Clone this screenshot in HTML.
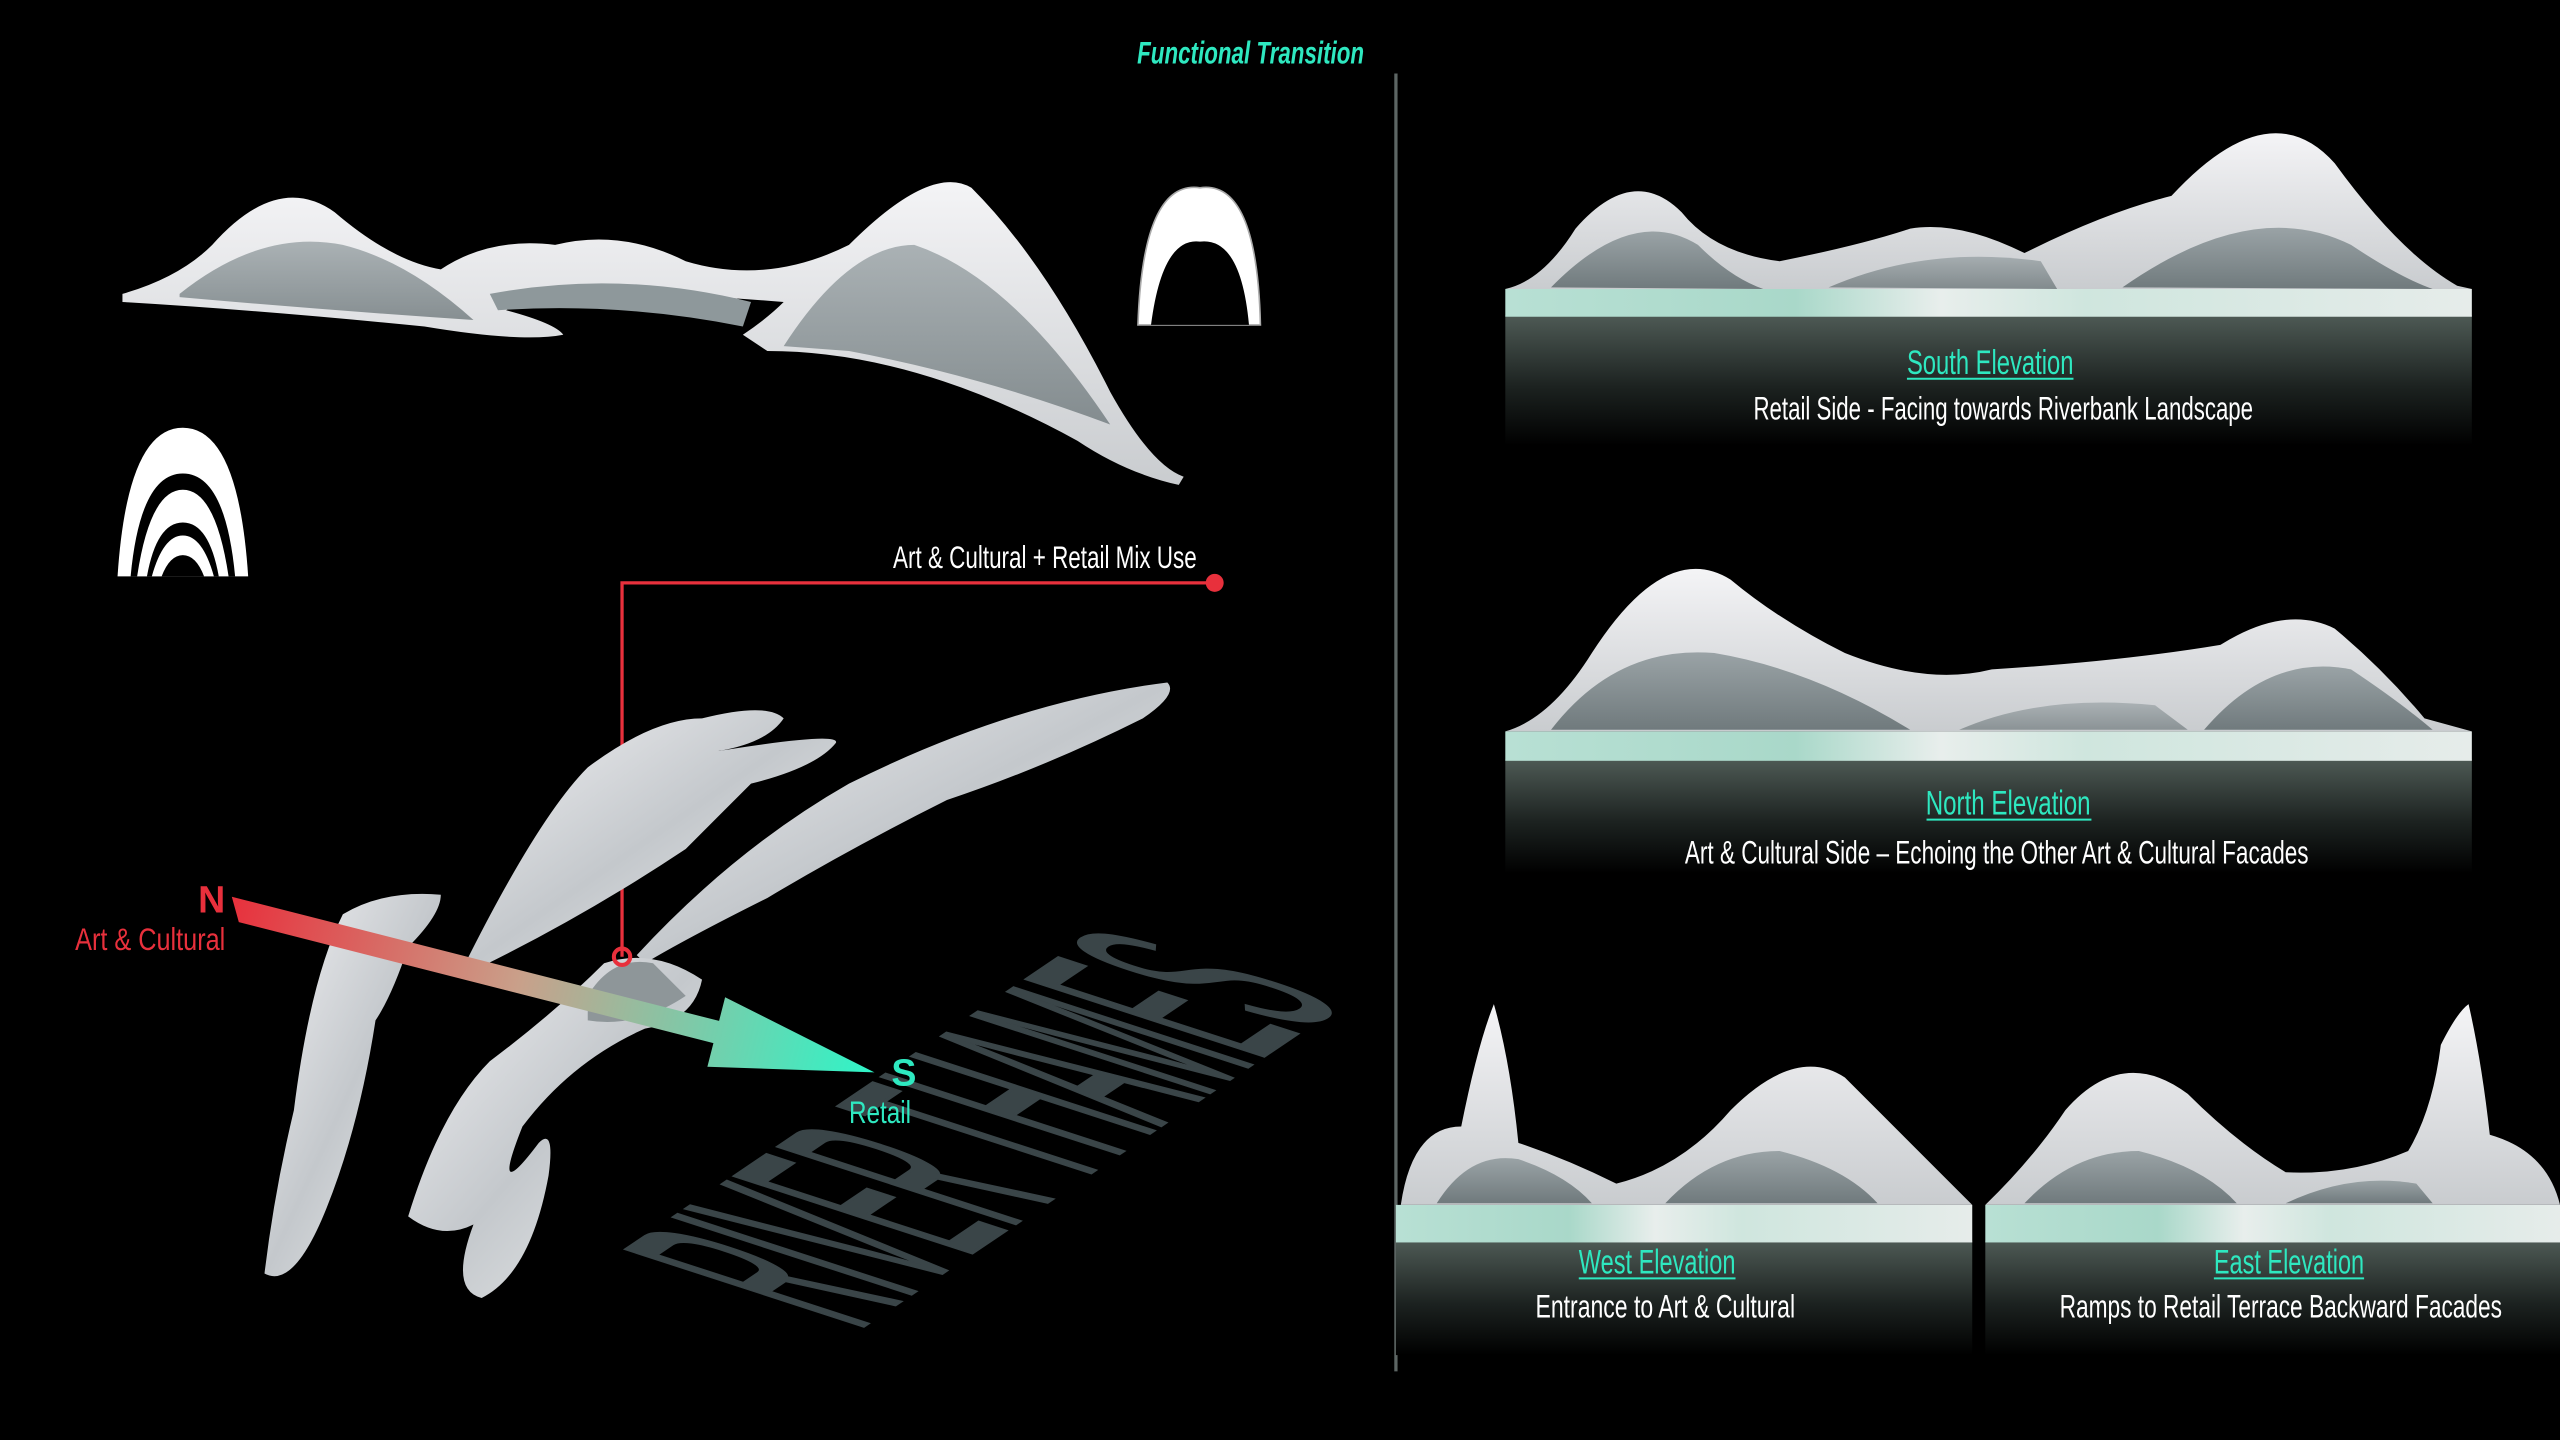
<!DOCTYPE html>
<html><head><meta charset="utf-8"><style>
html,body{margin:0;padding:0;background:#000;width:2560px;height:1440px;overflow:hidden}
svg{display:block}
text{font-family:"Liberation Sans Narrow","Liberation Sans",sans-serif}
</style></head><body>
<svg width="2560" height="1440" viewBox="0 0 1568 882" xmlns="http://www.w3.org/2000/svg">
<defs>
<linearGradient id="wh" x1="0" y1="0" x2="0" y2="1"><stop offset="0" stop-color="#f4f4f6"/><stop offset="1" stop-color="#c9cccf"/></linearGradient>
<linearGradient id="gl" x1="0" y1="0" x2="0" y2="1"><stop offset="0" stop-color="#9aa3a6"/><stop offset="1" stop-color="#707a7d"/></linearGradient>
<linearGradient id="band" x1="0" y1="0" x2="1" y2="0"><stop offset="0" stop-color="#b8e0d4"/><stop offset="0.3" stop-color="#a9d8c9"/><stop offset="0.45" stop-color="#e8eeec"/><stop offset="0.6" stop-color="#cfe6de"/><stop offset="1" stop-color="#e6ecea"/></linearGradient>
<linearGradient id="pan" x1="0" y1="0" x2="0" y2="1"><stop offset="0" stop-color="#4e5a55"/><stop offset="0.55" stop-color="#1c2220"/><stop offset="1" stop-color="#000"/></linearGradient>
<linearGradient id="arr" x1="0" y1="0" x2="1" y2="0"><stop offset="0" stop-color="#e8303c"/><stop offset="0.45" stop-color="#c9a08a"/><stop offset="1" stop-color="#2ef5c8"/></linearGradient>
<linearGradient id="blob" x1="0" y1="0" x2="1" y2="1"><stop offset="0" stop-color="#f2f2f4"/><stop offset="0.5" stop-color="#c4c8cc"/><stop offset="1" stop-color="#eef0f0"/></linearGradient>
</defs>

<text x="766" y="39" font-size="19" font-style="italic" font-weight="bold" fill="#2ee8c0" text-anchor="middle" textLength="139" lengthAdjust="spacingAndGlyphs">Functional Transition</text>
<line x1="855" y1="45" x2="855" y2="840" stroke="#5d6664" stroke-width="2"/>

<path d="M75,180 Q110,170 130,150 Q170,105 205,130 Q240,160 270,165 Q300,145 340,150 Q380,140 420,160 Q470,175 520,150 Q570,100 595,115 Q640,160 680,240 Q705,285 725,292 L722,297 Q690,290 660,270 Q560,215 470,215 L455,205 Q470,195 480,185 Q420,180 380,180 Q330,180 310,190 Q340,198 345,205 Q320,210 260,200 Q160,190 75,185 Z" fill="url(#wh)"/>
<path d="M110,180 Q160,140 210,150 Q250,160 290,196 Q200,190 110,182Z" fill="url(#gl)" opacity="0.8"/>
<path d="M480,212 Q520,150 560,150 Q620,170 680,260 Q600,230 520,215Z" fill="url(#gl)" opacity="0.8"/>
<path d="M300,180 Q380,165 460,185 L455,200 Q380,185 305,190Z" fill="#8e989b"/>

<path d="M697,199 Q700,110 735,115 Q770,110 772,199 Z" fill="#fff" stroke="#aaa" stroke-width="1"/>
<path d="M705,199 Q712,145 735,148 Q760,145 765,199Z" fill="#000"/>
<path d="M72,353 Q78,262 112,262 Q146,262 152,353Z" fill="#fff"/>
<path d="M80,353 Q86,290 112,290 Q138,290 144,353Z" fill="#000"/>
<path d="M84,353 Q92,300 112,300 Q132,300 140,353Z" fill="#fff"/>
<path d="M90,353 Q96,320 112,320 Q128,320 134,353Z" fill="#000"/>
<path d="M93,353 Q100,328 112,328 Q124,328 131,353Z" fill="#fff"/>
<path d="M99,353 Q104,340 112,340 Q120,340 125,353Z" fill="#000"/>

<text x="733" y="348" font-size="19" fill="#fff" text-anchor="end" textLength="186" lengthAdjust="spacingAndGlyphs">Art &amp; Cultural + Retail Mix Use</text>
<polyline points="744,357 381,357 381,586" fill="none" stroke="#e8303c" stroke-width="2"/>
<circle cx="744" cy="357" r="5.5" fill="#e8303c"/>

<!-- RIVER THAMES -->
<text transform="translate(525,815) rotate(-34) skewX(38)" font-size="175" fill="#3a4548" stroke="#3a4548" stroke-width="2" textLength="360" lengthAdjust="spacingAndGlyphs">RIVER THAMES</text>

<path d="M285,590 Q330,500 360,470 Q400,440 430,440 Q470,430 480,440 Q470,455 440,460 Q515,448 512,455 Q500,470 460,480 Q440,500 420,520 Q360,560 295,592Z" fill="url(#blob)"/>
<path d="M390,585 Q450,520 520,480 Q620,430 715,418 Q722,425 700,440 Q640,470 580,490 Q520,520 470,550 Q420,575 395,590Z" fill="url(#blob)"/>
<path d="M180,680 Q190,600 210,560 Q235,545 270,548 Q270,560 250,580 Q240,610 230,625 Q220,690 200,740 Q180,790 162,780 Q168,730 180,680Z" fill="url(#blob)"/>
<path d="M250,745 Q270,680 300,650 Q340,620 370,590 Q400,580 430,600 Q425,625 395,630 Q350,650 320,690 Q300,740 330,700 Q340,690 336,720 Q325,780 295,795 Q275,790 290,750 Q270,760 250,745Z" fill="url(#blob)"/>
<path d="M360,610 Q375,585 400,590 L420,610 Q390,630 360,625Z" fill="#8e9699"/>

<g transform="translate(148,558) rotate(14.3)">
<polygon points="0,-7 300,-7 300,-22 400,0 300,22 300,7 0,7 -8,-7" fill="url(#arr)"/>
</g>
<circle cx="381" cy="586" r="5" fill="none" stroke="#e8303c" stroke-width="2.5"/>
<text x="138" y="559" font-size="23" font-weight="bold" fill="#e8303c" text-anchor="end">N</text>
<text x="138" y="582" font-size="19" fill="#e8303c" text-anchor="end" textLength="92" lengthAdjust="spacingAndGlyphs">Art &amp; Cultural</text>
<text x="546" y="665" font-size="23" font-weight="bold" fill="#2ee8c0">S</text>
<text x="539" y="688" font-size="19" fill="#2ee8c0" text-anchor="middle" textLength="38" lengthAdjust="spacingAndGlyphs">Retail</text>

<rect x="922" y="193" width="592" height="80" fill="url(#pan)"/>
<rect x="922" y="177" width="592" height="17" fill="url(#band)"/>
<path d="M922,177 Q945,172 965,140 Q1000,100 1030,130 Q1050,155 1090,160 Q1140,150 1170,140 Q1200,135 1240,155 Q1290,130 1330,120 Q1390,55 1430,100 Q1470,155 1505,175 L1514,177Z" fill="url(#wh)"/>
<path d="M950,176 Q1000,125 1040,150 Q1060,170 1080,177Z" fill="url(#gl)"/>
<path d="M1300,176 Q1380,120 1440,150 Q1470,170 1490,177Z" fill="url(#gl)"/>
<path d="M1120,176 Q1180,150 1250,160 L1260,177Z" fill="url(#gl)" opacity="0.8"/>
<text x="1219" y="229" font-size="21" fill="#2ee8c0" text-anchor="middle" textLength="102" lengthAdjust="spacingAndGlyphs">South Elevation</text>
<line x1="1168" y1="232" x2="1270" y2="232" stroke="#2ee8c0" stroke-width="1.2"/>
<text x="1227" y="257" font-size="20" fill="#fff" text-anchor="middle" textLength="306" lengthAdjust="spacingAndGlyphs">Retail Side - Facing towards Riverbank Landscape</text>

<rect x="922" y="465" width="592" height="70" fill="url(#pan)"/>
<rect x="922" y="448" width="592" height="18" fill="url(#band)"/>
<path d="M922,448 Q950,440 975,400 Q1020,330 1060,355 Q1090,380 1130,400 Q1180,420 1220,410 Q1300,405 1360,395 Q1400,370 1430,385 Q1460,410 1485,440 L1514,448Z" fill="url(#wh)"/>
<path d="M950,447 Q990,395 1050,400 Q1110,410 1170,447Z" fill="url(#gl)"/>
<path d="M1350,447 Q1390,400 1440,410 Q1470,430 1490,447Z" fill="url(#gl)"/>
<path d="M1200,447 Q1250,425 1320,432 L1340,447Z" fill="url(#gl)" opacity="0.7"/>
<text x="1230" y="499" font-size="21" fill="#2ee8c0" text-anchor="middle" textLength="101" lengthAdjust="spacingAndGlyphs">North Elevation</text>
<line x1="1180" y1="502" x2="1281" y2="502" stroke="#2ee8c0" stroke-width="1.2"/>
<text x="1223" y="529" font-size="20" fill="#fff" text-anchor="middle" textLength="382" lengthAdjust="spacingAndGlyphs">Art &amp; Cultural Side – Echoing the Other Art &amp; Cultural Facades</text>

<rect x="855" y="760" width="353" height="70" fill="url(#pan)"/>
<rect x="855" y="738" width="353" height="23" fill="url(#band)"/>
<path d="M858,738 Q865,690 895,690 Q905,640 915,615 Q925,650 930,700 Q960,710 990,725 Q1030,715 1060,680 Q1100,640 1130,660 Q1170,700 1208,738Z" fill="url(#wh)"/>
<path d="M880,737 Q900,705 930,710 Q960,720 975,737Z" fill="url(#gl)"/>
<path d="M1020,737 Q1050,705 1090,705 Q1130,715 1150,737Z" fill="url(#gl)"/>
<text x="1015" y="780" font-size="21" fill="#2ee8c0" text-anchor="middle" textLength="96" lengthAdjust="spacingAndGlyphs">West Elevation</text>
<line x1="967" y1="783" x2="1063" y2="783" stroke="#2ee8c0" stroke-width="1.2"/>
<text x="1020" y="807" font-size="20" fill="#fff" text-anchor="middle" textLength="159" lengthAdjust="spacingAndGlyphs">Entrance to Art &amp; Cultural</text>

<rect x="1216" y="760" width="352" height="70" fill="url(#pan)"/>
<rect x="1216" y="738" width="352" height="23" fill="url(#band)"/>
<path d="M1216,738 Q1245,710 1265,680 Q1300,640 1340,670 Q1370,700 1400,718 Q1440,720 1475,705 Q1490,680 1495,640 Q1505,620 1512,615 Q1520,650 1525,695 Q1560,705 1568,738Z" fill="url(#wh)"/>
<path d="M1240,737 Q1270,705 1310,705 Q1350,715 1370,737Z" fill="url(#gl)"/>
<path d="M1400,737 Q1440,718 1480,725 L1490,737Z" fill="url(#gl)"/>
<text x="1402" y="780" font-size="21" fill="#2ee8c0" text-anchor="middle" textLength="92" lengthAdjust="spacingAndGlyphs">East Elevation</text>
<line x1="1356" y1="783" x2="1448" y2="783" stroke="#2ee8c0" stroke-width="1.2"/>
<text x="1397" y="807" font-size="20" fill="#fff" text-anchor="middle" textLength="271" lengthAdjust="spacingAndGlyphs">Ramps to Retail  Terrace Backward Facades</text>
</svg>
</body></html>
